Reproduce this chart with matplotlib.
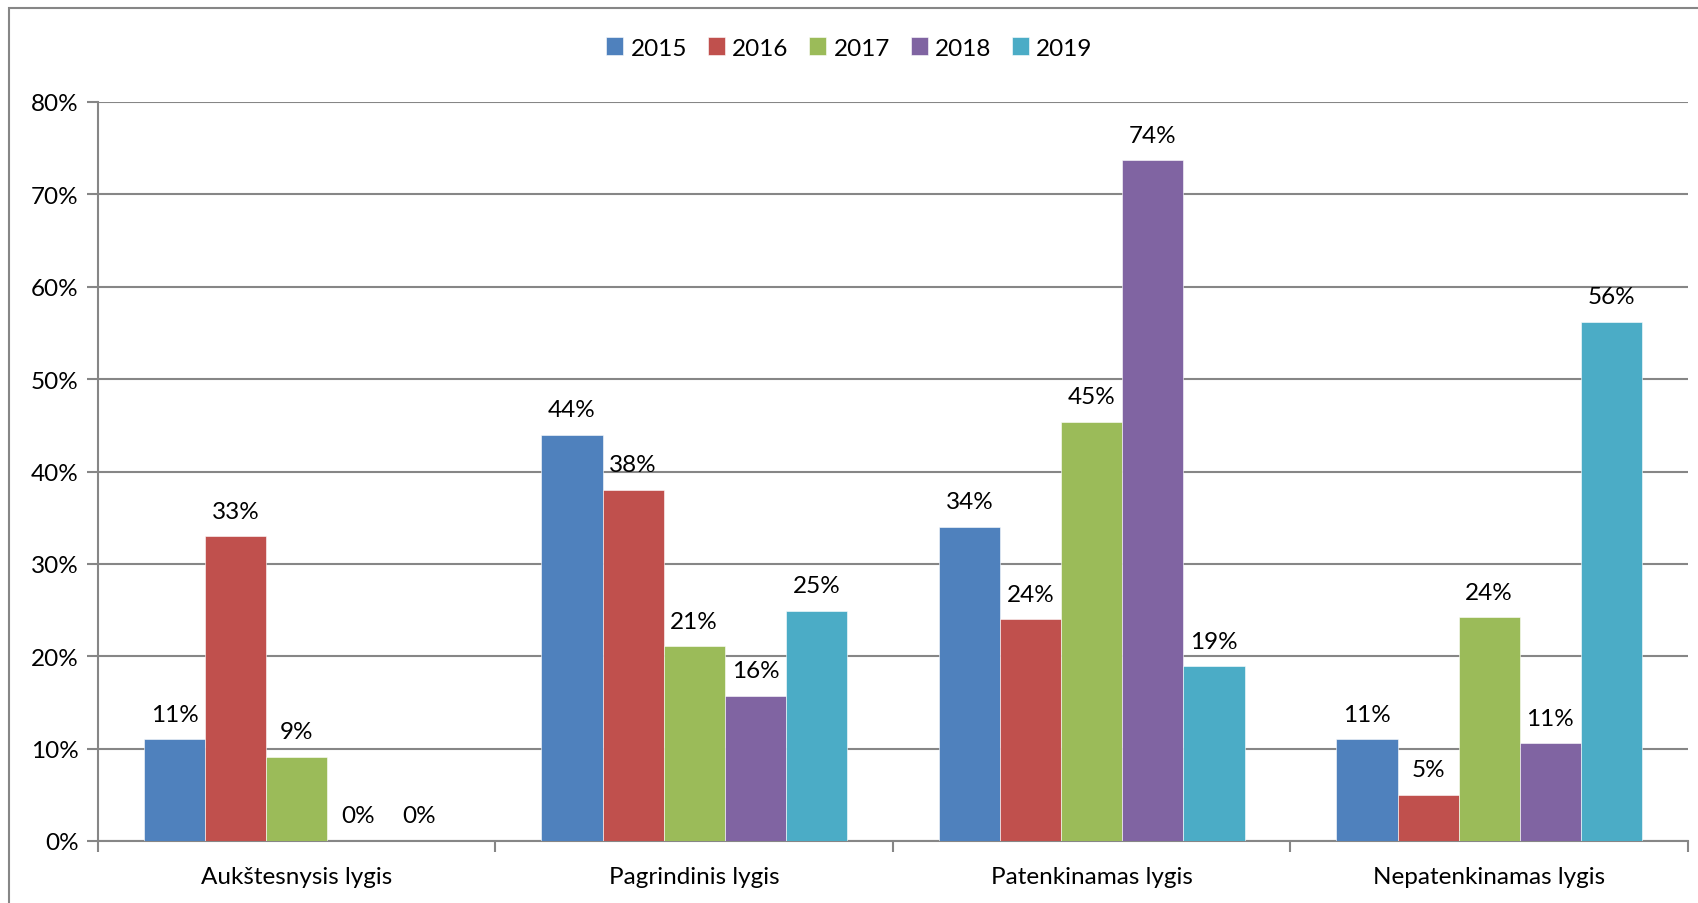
import numpy as np
import matplotlib.pyplot as plt
from matplotlib.patches import Rectangle
from matplotlib.ticker import FuncFormatter

plt.rcParams['font.family'] = ['Lato', 'DejaVu Sans']

categories = ['Aukštesnysis lygis', 'Pagrindinis lygis', 'Patenkinamas lygis', 'Nepatenkinamas lygis']
years = ['2015', '2016', '2017', '2018', '2019']
values = {
    '2015': [11.0, 44.0, 34.0, 11.0],
    '2016': [33.0, 38.0, 24.0, 5.0],
    '2017': [9.1, 21.1, 45.4, 24.2],
    '2018': [0.0, 15.7, 73.7, 10.6],
    '2019': [0.0, 24.9, 18.9, 56.2],
}
colors = ['#4F81BD', '#C0504D', '#9BBB59', '#8064A2', '#4BACC6']

fig = plt.figure(figsize=(16.99, 9.04), dpi=100)
ax = fig.add_axes([98 / 1699, 1 - 842 / 904, (1688 - 98) / 1699, (842 - 103) / 904])

# figure border (cut off at right and bottom like the reference)
fig.patches.append(Rectangle((9 / 1699, -0.1), 1.2, 1.1 - 9 / 904, transform=fig.transFigure,
                             fill=False, edgecolor='#868686', linewidth=1.5, clip_on=False))

x = np.arange(len(categories))
w = 1 / 6.5  # excel gap width 150%
grey = '#868686'
fs = 17.5
for i, yr in enumerate(years):
    pos = x - 2 * w + i * w
    bars = ax.bar(pos, values[yr], width=w, color=colors[i], label=yr, zorder=3,
                  edgecolor='white', linewidth=0.4)
    for b, v in zip(bars, values[yr]):
        ax.annotate(f'{v:.0f}%', (b.get_x() + b.get_width() / 2, v), xytext=(0, 18),
                    textcoords='offset points', ha='center', va='center', fontsize=fs, color='black')

ax.set_xlim(-0.5, len(categories) - 0.5)
ax.set_ylim(0, 80)
ax.set_yticks(np.arange(0, 81, 10))
ax.yaxis.set_major_formatter(FuncFormatter(lambda v, p: f'{v:.0f}%'))
ax.grid(axis='y', color=grey, linewidth=1.5, zorder=0)

ax.set_xticks(x)
ax.set_xticklabels(categories)
ax.set_xticks(np.arange(-0.5, len(categories)), minor=True)
ax.tick_params(axis='x', which='major', length=0, pad=18, labelsize=fs)
ax.tick_params(axis='x', which='minor', length=8, width=1.5, color=grey)
ax.tick_params(axis='y', length=8, width=1.5, color=grey, labelsize=fs, pad=6)

for s in ['top', 'right']:
    ax.spines[s].set_visible(False)
for s in ['left', 'bottom']:
    ax.spines[s].set_color(grey)
    ax.spines[s].set_linewidth(1.5)

fig.legend(loc='center', bbox_to_anchor=(0.5, 1 - 49 / 904), ncol=5, frameon=False,
           fontsize=fs, handlelength=0.7, handleheight=0.7, handletextpad=0.3, columnspacing=0.85)

fig.savefig('out.png', dpi=100)
